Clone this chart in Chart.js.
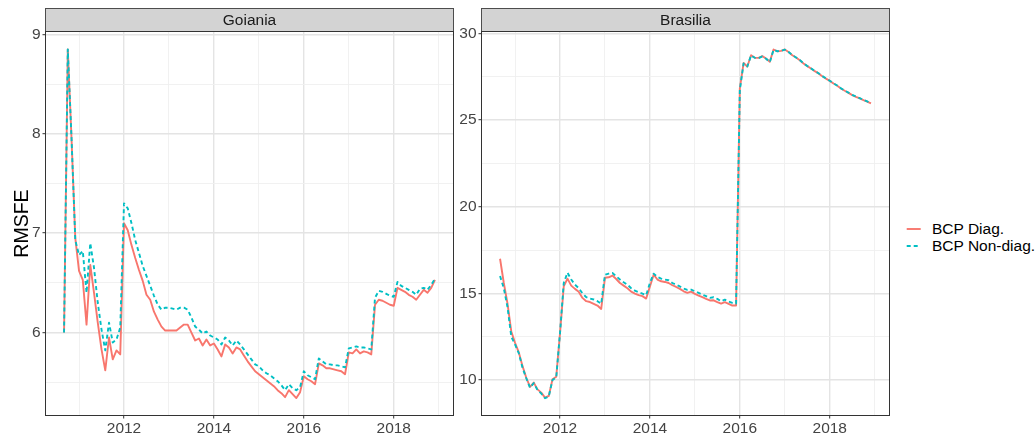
<!DOCTYPE html>
<html>
<head>
<meta charset="utf-8">
<script src="https://cdn.jsdelivr.net/npm/chart.js@4.4.1/dist/chart.umd.min.js"></script>
<style>
  html, body { margin: 0; padding: 0; background: #fff; }
  #wrap { position: relative; width: 1035px; height: 436px; overflow: hidden;
          font-family: "Liberation Sans", Arial, sans-serif; }
  canvas { position: absolute; top: 0; }
  #legend { position: absolute; left: 906px; top: 221px; font-size: 15.5px; color: #000; }
  .row { display: flex; align-items: center; height: 16.6px; white-space: nowrap; }
  .row svg { width: 15px; height: 16px; margin-right: 11px; flex: none; }
</style>
</head>
<body>
<div id="wrap">
  <canvas id="ch-goiania" width="455" height="436" style="left:0"></canvas>
  <canvas id="ch-brasilia" width="437" height="436" style="left:455px"></canvas>
  <div id="legend">
    <div class="row"><svg viewBox="0 0 15 16"><line x1="0.7" y1="8" x2="14.7" y2="8" stroke="#F8766D" stroke-width="1.9"/></svg><span>BCP Diag.</span></div>
    <div class="row"><svg viewBox="0 0 15 16"><line x1="0.7" y1="8" x2="14.7" y2="8" stroke="#00BFC4" stroke-width="1.9" stroke-dasharray="4,3"/></svg><span>BCP Non-diag.</span></div>
  </div>
</div>
<script>
// ---------------- data (monthly, Sep 2010 .. Dec 2018) ----------------
const startYear = 2010, startMonth = 9;
const nMonths = 100;
const months = [];
for (let i = 0; i < nMonths; i++) months.push(startYear + (startMonth - 1 + i) / 12);

const seriesNames = ['BCP Diag.', 'BCP Non-diag.'];
const panelNames = ['Goiania', 'Brasilia'];

const goianiaDiag = [
  6.00, 8.85, 7.95, 6.95, 6.62, 6.53, 6.08, 6.68, 6.40, 6.10,
  5.83, 5.62, 5.95, 5.73, 5.82, 5.78, 7.10, 7.03, 6.88, 6.75,
  6.63, 6.52, 6.38, 6.33, 6.21, 6.13, 6.06, 6.02, 6.02, 6.02,
  6.02, 6.05, 6.08, 6.08, 6.00, 5.92, 5.94, 5.87, 5.93, 5.87,
  5.89, 5.83, 5.76, 5.88, 5.85, 5.79, 5.85, 5.83, 5.77, 5.71,
  5.66, 5.61, 5.58, 5.55, 5.52, 5.49, 5.46, 5.42, 5.39, 5.35,
  5.42, 5.38, 5.34, 5.40, 5.56, 5.53, 5.51, 5.48, 5.69, 5.67,
  5.64, 5.64, 5.63, 5.62, 5.61, 5.58, 5.80, 5.79, 5.83, 5.79,
  5.81, 5.80, 5.78, 6.28, 6.33, 6.32, 6.30, 6.28, 6.27, 6.45,
  6.43, 6.41, 6.38, 6.36, 6.33, 6.38, 6.43, 6.40, 6.45, 6.53
];
const goianiaNonDiag = [
  6.00, 8.85, 7.95, 6.93, 6.78, 6.82, 6.40, 6.90, 6.65, 6.30,
  6.03, 5.82, 6.10, 5.90, 5.93, 6.05, 7.30, 7.25, 7.10, 6.93,
  6.80, 6.67, 6.57, 6.47, 6.37, 6.28, 6.23, 6.25, 6.25, 6.24,
  6.23, 6.25, 6.25, 6.23, 6.15, 6.06, 6.03, 5.99, 6.01, 5.97,
  5.95, 5.93, 5.88, 5.95, 5.92, 5.87, 5.92, 5.88, 5.83, 5.78,
  5.73, 5.68, 5.66, 5.62, 5.59, 5.57, 5.54, 5.51, 5.47, 5.42,
  5.48, 5.44, 5.42, 5.45, 5.61, 5.57, 5.55, 5.53, 5.74, 5.71,
  5.68, 5.68, 5.67, 5.67, 5.66, 5.65, 5.84, 5.85, 5.86, 5.85,
  5.85, 5.84, 5.83, 6.35, 6.42, 6.41, 6.39, 6.37, 6.36, 6.51,
  6.47, 6.45, 6.43, 6.41, 6.38, 6.44, 6.45, 6.43, 6.48, 6.54
];
const brasiliaDiag = [
  17.00, 15.60, 14.40, 12.80, 12.15, 11.60, 10.80, 10.13, 9.60, 9.85,
  9.46, 9.27, 8.98, 9.08, 10.04, 10.19, 12.70, 15.40, 15.85, 15.45,
  15.26, 15.10, 14.74, 14.55, 14.50, 14.40, 14.30, 14.10, 15.90, 15.93,
  16.03, 15.83, 15.60, 15.45, 15.30, 15.10, 14.99, 14.90, 14.84, 14.70,
  15.40, 16.08, 15.80, 15.70, 15.66, 15.60, 15.47, 15.37, 15.26, 15.12,
  15.03, 15.10, 14.97, 14.87, 14.78, 14.68, 14.59, 14.60, 14.50, 14.41,
  14.49, 14.40, 14.30, 14.30, 26.83, 28.30, 28.10, 28.75, 28.60, 28.60,
  28.70, 28.56, 28.37, 29.08, 28.98, 29.00, 29.08, 28.94, 28.75, 28.62,
  28.46, 28.27, 28.12, 27.98, 27.83, 27.70, 27.54, 27.40, 27.27, 27.12,
  26.99, 26.83, 26.70, 26.58, 26.45, 26.35, 26.26, 26.16, 26.07, 25.97
];
const brasiliaNonDiag = [
  16.00, 15.30, 14.20, 12.50, 12.05, 11.55, 10.70, 10.10, 9.55, 9.82,
  9.42, 9.22, 8.95, 9.05, 10.00, 10.15, 12.70, 15.60, 16.20, 15.80,
  15.50, 15.30, 15.00, 14.78, 14.70, 14.65, 14.55, 14.40, 16.08, 16.14,
  16.18, 15.99, 15.80, 15.64, 15.50, 15.30, 15.16, 15.07, 14.99, 14.90,
  15.60, 16.14, 15.95, 15.85, 15.80, 15.76, 15.60, 15.50, 15.40, 15.28,
  15.20, 15.22, 15.12, 15.03, 14.93, 14.84, 14.74, 14.78, 14.68, 14.55,
  14.64, 14.53, 14.45, 14.41, 26.74, 28.28, 28.10, 28.74, 28.60, 28.58,
  28.68, 28.55, 28.35, 29.06, 28.98, 29.00, 29.07, 28.94, 28.76, 28.62,
  28.47, 28.28, 28.13, 27.99, 27.84, 27.71, 27.55, 27.41, 27.28, 27.13,
  27.00, 26.84, 26.71, 26.59, 26.46, 26.36, 26.27, 26.17, 26.08, 25.98
];

const xTicks = [2011, 2012, 2013, 2014, 2015, 2016, 2017, 2018, 2019];
const goianiaYTicks = [5.5, 6, 6.5, 7, 7.5, 8, 8.5, 9];
const brasiliaYTicks = [10, 12.5, 15, 17.5, 20, 22.5, 25, 27.5, 30];

// ---------------- helpers ----------------
const FONT = '"Liberation Sans", Arial, sans-serif';
const RED = '#F8766D', CYAN = '#00BFC4';

const facetStrip = {
  id: 'facetStrip',
  beforeDraw(chart, args, opts) {
    const { ctx, chartArea: a } = chart;
    ctx.save();
    ctx.fillStyle = '#d3d3d3';
    ctx.fillRect(a.left, 8.5, a.right - a.left, a.top - 8.5);
    ctx.strokeStyle = '#4d4d4d';
    ctx.lineWidth = 1;
    ctx.strokeRect(a.left, 8.5, a.right - a.left, a.top - 8.5);
    ctx.fillStyle = '#1a1a1a';
    ctx.font = '15.5px ' + FONT;
    ctx.textAlign = 'center';
    ctx.textBaseline = 'middle';
    ctx.fillText(opts.title, (a.left + a.right) / 2, 20.5);
    ctx.restore();
  },
  afterDatasetsDraw(chart) {
    const { ctx, chartArea: a } = chart;
    ctx.save();
    ctx.strokeStyle = '#333333';
    ctx.lineWidth = 1;
    ctx.strokeRect(a.left, a.top, a.right - a.left, a.bottom - a.top);
    ctx.restore();
  }
};

function gridOpts(isMajor) {
  return {
    color: c => isMajor(c.tick.value) ? '#e4e4e4' : '#efefef',
    lineWidth: c => isMajor(c.tick.value) ? 1.4 : 0.9,
    tickColor: c => isMajor(c.tick.value) ? '#333333' : 'rgba(0,0,0,0)',
    tickWidth: 1,
    tickLength: 3
  };
}

function makePanel(id, title, diag, nondiag, yMin, yMax, yTicks, yMajor, yWidth, padRight, withTitle) {
  const xMajor = v => v % 2 === 0;
  return new Chart(document.getElementById(id), {
    type: 'line',
    data: {
      datasets: [
        { label: seriesNames[0], data: months.map((x, i) => ({ x, y: diag[i] })),
          borderColor: RED, borderWidth: 1.9, pointRadius: 0, tension: 0, order: 2,
          borderJoinStyle: 'round' },
        { label: seriesNames[1], data: months.map((x, i) => ({ x, y: nondiag[i] })),
          borderColor: CYAN, borderWidth: 1.9, pointRadius: 0, tension: 0, order: 1,
          borderDash: [4, 3], borderJoinStyle: 'round' }
      ]
    },
    options: {
      responsive: false, animation: false, devicePixelRatio: 1,
      layout: { padding: { left: 0, right: padRight, top: 31.5, bottom: 0 } },
      plugins: { legend: { display: false }, tooltip: { enabled: false }, facetStrip: { title } },
      scales: {
        x: {
          type: 'linear', min: 2010.254, max: 2019.329,
          afterBuildTicks: s => { s.ticks = xTicks.map(v => ({ value: v })); },
          afterFit: s => { s.height = 20.5; },
          border: { display: false },
          grid: gridOpts(xMajor),
          ticks: { callback: v => xMajor(v) ? String(v) : '', color: '#444444',
                   font: { family: FONT, size: 15.5 }, padding: 1, maxRotation: 0, autoSkip: false }
        },
        y: {
          type: 'linear', min: yMin, max: yMax,
          afterBuildTicks: s => { s.ticks = yTicks.map(v => ({ value: v })); },
          afterFit: s => { s.width = yWidth; },
          border: { display: false },
          grid: gridOpts(yMajor),
          title: withTitle ? { display: true, text: 'RMSFE', color: '#000',
                   font: { family: FONT, size: 19.5 }, padding: { top: 10.5, bottom: 0 } } : { display: false },
          ticks: { callback: v => yMajor(v) ? String(v) : '', color: '#444444',
                   font: { family: FONT, size: 15.5 }, padding: 2, autoSkip: false }
        }
      }
    },
    plugins: [facetStrip]
  });
}

makePanel('ch-goiania', panelNames[0], goianiaDiag, goianiaNonDiag,
  5.165, 9.03, goianiaYTicks, v => Number.isInteger(v), 45.5, 1.5, true);
makePanel('ch-brasilia', panelNames[1], brasiliaDiag, brasiliaNonDiag,
  7.95, 30.12, brasiliaYTicks, v => v % 5 === 0, 26.5, 2.5, false);
</script>
</body>
</html>
